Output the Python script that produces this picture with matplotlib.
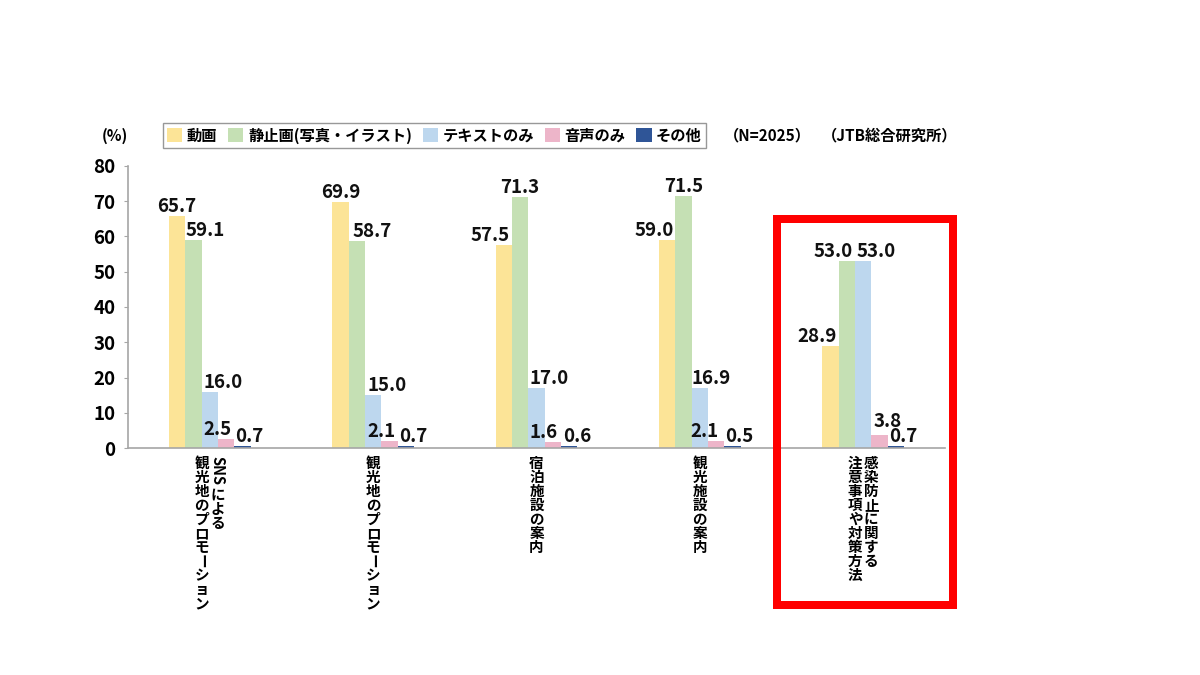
import numpy as np
import matplotlib.pyplot as plt
from matplotlib.patches import Patch, Rectangle

plt.rcParams['font.family'] = ['Noto Sans CJK JP', 'DejaVu Sans']

categories = ["SNSによる\n観光地のプロモーション", "観光地のプロモーション",
              "宿泊施設の案内", "観光施設の案内", "感染防止に関する\n注意事項や対策方法"]
series_names = ["動画", "静止画(写真・イラスト)", "テキストのみ", "音声のみ", "その他"]
video = [65.7, 69.9, 57.5, 59.0, 28.9]
still = [59.1, 58.7, 71.3, 71.5, 53.0]
text_only = [16.0, 15.0, 17.0, 16.9, 53.0]
audio = [2.5, 2.1, 1.6, 2.1, 3.8]
other = [0.7, 0.7, 0.6, 0.5, 0.7]
yticks = [0, 10, 20, 30, 40, 50, 60, 70, 80]

colors = ['#FCE497', '#C5E0B4', '#BDD7EE', '#EDB5C9', '#2F5597']
# value label nudges in px (excel shifted them to avoid overlapping)
label_dx = [[0, 12, 13, -9, 7],
            [0, 15, 14, -8, 7],
            [-14, 0, 13, -9, 8],
            [-13, 0, 11, -12, 7],
            [-14, -14, 13, 8, 7]]
label_dy = [[4, 4, 4, 4, 4],
            [4, 4, 4, 4, 4],
            [4, 4, 4, 4, 4],
            [4, 4, 4, 4, 4],
            [4, 4, 4, 8, 4]]

PT = 0.72  # px -> pt at dpi 100

fig = plt.figure(figsize=(12, 6.75), dpi=100)
ax = fig.add_axes([128/1200, 227/675, 817/1200, 282/675])

series = [video, still, text_only, audio, other]
x = np.arange(len(categories))
w = 0.1
for k, vals in enumerate(series):
    xs = x + (k - 2) * w
    ax.bar(xs, vals, width=w, color=colors[k], label=series_names[k], zorder=2)
    for g, v in enumerate(vals):
        ax.annotate(f"{v:.1f}", xy=(xs[g], v), xytext=(label_dx[g][k]*PT, label_dy[g][k]*PT),
                    textcoords='offset points', ha='center', va='baseline',
                    fontsize=13.5, fontweight='bold', color='#111111')

ax.set_xlim(-0.5, 4.5)
ax.set_ylim(0, 80)
ax.set_yticks(yticks)
ax.set_yticklabels([str(t) for t in yticks], fontsize=13.5, fontweight='bold')
ax.tick_params(axis='y', length=3, color='#A6A6A6', pad=6)
ax.set_xticks([])
for s in ['top', 'right']:
    ax.spines[s].set_visible(False)
for s in ['left', 'bottom']:
    ax.spines[s].set_color('#A6A6A6')
    ax.spines[s].set_linewidth(1.2)

# vertical (tategaki) category labels, columns right to left
step = 14  # px per character
for g, cat in enumerate(categories):
    cols = cat.split("\n")
    n = len(cols)
    for c, col in enumerate(cols):
        cx = (n - 1) * 8 - c * 16 if n > 1 else 0
        cy = 8
        i = 0
        while i < len(col):
            ch = col[i]
            if ch.isascii():
                j = i
                while j < len(col) and col[j].isascii():
                    j += 1
                ax.annotate(col[i:j], xy=(g, 0), xycoords=('data', 'axes fraction'),
                            xytext=(cx*PT, -cy*PT), textcoords='offset points',
                            rotation=-90, ha='center', va='top',
                            fontsize=10.5, fontweight='bold')
                cy += 10 * (j - i) + 2
                i = j
                continue
            rot = -90 if ch == 'ー' else 0
            ax.annotate(ch, xy=(g, 0), xycoords=('data', 'axes fraction'),
                        xytext=(cx*PT, -(cy + step/2)*PT), textcoords='offset points',
                        rotation=rot, ha='center', va='center',
                        fontsize=10.5, fontweight='bold')
            cy += step
            i += 1

handles = [Patch(facecolor=colors[k], label=series_names[k]) for k in range(5)]
leg = fig.legend(handles=handles, ncol=5, loc='center', bbox_to_anchor=(434.5/1200, 1 - 135.5/675),
                 frameon=True, fancybox=False, handlelength=1.0, handleheight=1.0,
                 handletextpad=0.3, columnspacing=0.7, borderpad=0.3,
                 prop={'weight': 'bold', 'size': 11})
leg.get_frame().set_edgecolor('#7F7F7F')
leg.get_frame().set_linewidth(1.0)

fig.text(115/1200, 1 - 135.5/675, "(%)", ha='center', va='center', fontsize=11, fontweight='bold')
fig.text(724/1200, 1 - 135.5/675, "（N=2025）", ha='left', va='center', fontsize=11, fontweight='bold')
fig.text(822/1200, 1 - 135.5/675, "（JTB総合研究所）", ha='left', va='center', fontsize=11, fontweight='bold')

# red highlight box
fig.patches.append(Rectangle((777/1200, 70/675), 176/1200, 386/675, transform=fig.transFigure,
                             fill=False, edgecolor='#FF0000', linewidth=8*PT, zorder=5))

fig.savefig('out.png', dpi=100, facecolor='white')
